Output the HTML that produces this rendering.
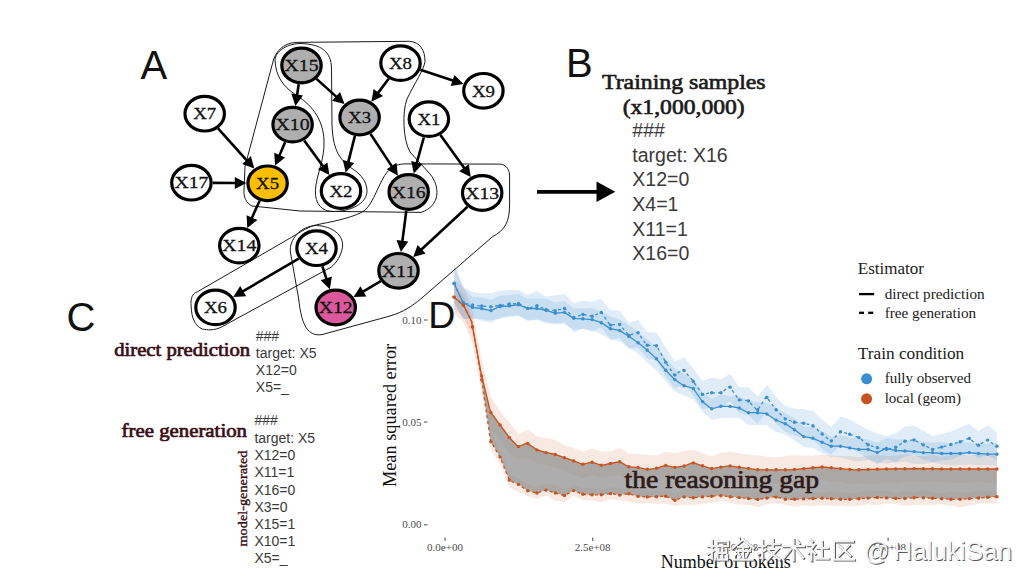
<!DOCTYPE html>
<html><head><meta charset="utf-8">
<style>
html,body{margin:0;padding:0;background:#fff;}
svg{display:block;}
.sans{font-family:"Liberation Sans",sans-serif;}
.serif{font-family:"Liberation Serif",serif;}
.nl{font-family:"Liberation Serif",serif;font-size:17.4px;fill:#111;stroke:#111;stroke-width:0.3px;}
.lbl{font-family:"Liberation Sans",sans-serif;fill:#111;}
.code{font-family:"Liberation Sans",sans-serif;fill:#3a3a3a;}
.mar{font-family:"Liberation Serif",serif;fill:#3b0d16;stroke:#3b0d16;stroke-width:0.7px;}
.tick{font-family:"Liberation Serif",serif;font-size:11px;fill:#4d4d4d;}
.leg{font-family:"Liberation Serif",serif;fill:#1a1a1a;}
</style></head>
<body>
<svg width="1033" height="584" viewBox="0 0 1033 584">
<rect x="0" y="0" width="1033" height="584" fill="#fff"/>
<!-- chart D -->
<g id="chart">
<polygon points="454.1,279.5 463.3,286.7 472.5,309.5 481.7,360.1 490.9,396.7 500.1,411.1 509.3,422.6 518.5,434.1 527.7,429.6 536.9,436.2 546.1,437.9 555.3,440.1 564.5,445.1 573.7,447.9 582.9,451.5 592.1,448.4 601.3,451.6 610.5,451.2 619.7,447.8 628.9,453.8 638.1,454.0 647.3,455.1 656.5,455.4 665.7,451.8 674.9,453.3 684.1,451.2 693.3,449.6 702.5,453.2 711.7,456.2 720.9,452.9 730.1,451.5 739.3,453.2 748.5,454.7 757.7,455.3 766.9,456.4 776.1,457.4 785.3,455.9 794.5,455.1 803.7,455.4 812.9,455.6 822.1,454.4 831.3,455.4 840.5,456.1 849.7,456.2 858.9,457.3 868.1,455.8 877.3,454.9 886.5,456.1 895.7,455.7 904.9,454.1 914.1,456.0 923.3,455.9 932.5,455.1 941.7,456.7 950.9,455.8 960.1,454.3 969.3,455.5 978.5,455.0 987.7,454.5 996.9,454.5 996.9,483.3 987.7,483.2 978.5,481.3 969.3,482.8 960.1,483.0 950.9,482.7 941.7,482.2 932.5,481.7 923.3,482.1 914.1,481.4 904.9,481.4 895.7,483.4 886.5,482.3 877.3,483.7 868.1,483.9 858.9,483.0 849.7,483.9 840.5,481.5 831.3,482.0 822.1,479.5 812.9,481.2 803.7,482.6 794.5,482.4 785.3,484.6 776.1,483.8 766.9,483.7 757.7,484.3 748.5,481.8 739.3,480.9 730.1,479.0 720.9,480.8 711.7,482.4 702.5,479.3 693.3,477.0 684.1,478.5 674.9,480.3 665.7,479.9 656.5,482.0 647.3,483.4 638.1,480.4 628.9,480.5 619.7,475.1 610.5,476.3 601.3,477.6 592.1,475.5 582.9,477.9 573.7,475.2 564.5,470.2 555.3,467.5 546.1,464.9 536.9,463.2 527.7,458.1 518.5,459.4 509.3,453.2 500.1,438.9 490.9,429.3 481.7,392.9 472.5,343.3 463.3,322.0 454.1,314.2" fill="#c9521e" fill-opacity="0.13"/>
<polygon points="454.1,285.3 463.3,294.2 472.5,319.0 481.7,371.5 490.9,433.1 500.1,450.4 509.3,473.0 518.5,479.1 527.7,483.9 536.9,487.1 546.1,483.9 555.3,485.6 564.5,489.1 573.7,485.1 582.9,488.2 592.1,487.4 601.3,489.5 610.5,487.0 619.7,488.5 628.9,487.1 638.1,489.0 647.3,491.0 656.5,491.2 665.7,489.7 674.9,494.1 684.1,489.6 693.3,490.2 702.5,489.6 711.7,490.4 720.9,489.7 730.1,491.4 739.3,491.7 748.5,490.8 757.7,491.8 766.9,490.4 776.1,491.3 785.3,493.5 794.5,492.4 803.7,491.5 812.9,491.7 822.1,492.9 831.3,491.2 840.5,492.1 849.7,493.6 858.9,492.6 868.1,490.4 877.3,491.3 886.5,490.9 895.7,492.9 904.9,490.9 914.1,492.2 923.3,490.0 932.5,492.1 941.7,493.2 950.9,491.5 960.1,492.7 969.3,492.3 978.5,490.6 987.7,491.5 996.9,490.9 996.9,503.4 987.7,503.3 978.5,503.7 969.3,506.1 960.1,506.9 950.9,506.1 941.7,504.0 932.5,504.9 923.3,504.7 914.1,505.1 904.9,505.7 895.7,504.0 886.5,503.6 877.3,505.2 868.1,504.3 858.9,506.0 849.7,506.5 840.5,505.7 831.3,506.0 822.1,505.2 812.9,505.9 803.7,505.4 794.5,506.8 785.3,504.9 776.1,502.8 766.9,504.2 757.7,507.2 748.5,504.9 739.3,504.6 730.1,502.6 720.9,501.1 711.7,502.7 702.5,504.0 693.3,505.0 684.1,504.7 674.9,505.9 665.7,503.5 656.5,504.0 647.3,503.1 638.1,503.4 628.9,501.4 619.7,500.4 610.5,499.2 601.3,502.5 592.1,500.4 582.9,500.2 573.7,496.0 564.5,502.0 555.3,500.8 546.1,495.6 536.9,499.1 527.7,496.2 518.5,491.9 509.3,487.6 500.1,464.2 490.9,449.5 481.7,387.9 472.5,334.8 463.3,317.5 454.1,308.8" fill="#c9521e" fill-opacity="0.13"/>
<polygon points="453.8,296.8 463.6,305.4 471.5,321.2 481.3,374.3 490.6,412.1 500.1,425.0 509.6,437.8 518.1,446.8 527.1,443.0 536.8,449.9 546.4,452.7 555.3,454.5 564.3,457.6 573.8,460.9 582.3,464.3 591.8,462.2 601.6,465.3 610.6,463.5 619.6,461.7 628.6,466.8 638.1,467.4 646.6,469.4 655.5,468.6 665.3,465.3 674.8,467.4 683.8,466.1 692.8,462.7 711.1,468.6 729.0,465.8 758.7,469.8 790.5,469.8 822.2,467.0 854.0,469.8 885.7,469.0 917.5,468.6 949.2,469.0 996.8,469.0 996.8,496.7 957.1,499.5 917.5,497.5 901.6,498.7 877.8,497.5 846.0,499.5 822.2,498.3 786.5,499.5 774.6,496.7 758.7,499.5 719.0,495.6 692.8,497.7 683.8,496.9 674.8,500.2 665.3,496.1 655.5,496.9 646.6,496.9 638.1,496.4 628.6,493.6 619.6,495.1 610.6,493.6 601.6,494.8 591.8,494.8 582.3,494.3 573.8,490.5 564.3,495.6 555.3,493.0 546.4,490.0 536.8,493.0 527.1,490.5 518.1,484.1 509.6,480.7 500.1,457.1 490.6,441.2 481.3,377.0 471.5,321.2 463.6,305.4 453.8,296.8" fill="#8a8a8a" fill-opacity="0.7"/>
<polygon points="454.1,264.1 463.3,288.3 472.5,296.7 481.7,297.4 490.9,299.8 500.1,295.5 509.3,294.9 518.5,293.9 527.7,298.7 536.9,298.4 546.1,298.7 555.3,302.6 564.5,301.3 573.7,308.3 582.9,308.5 592.1,307.9 601.3,311.5 610.5,316.6 619.7,319.4 628.9,325.3 638.1,331.9 647.3,339.2 656.5,347.3 665.7,358.2 674.9,368.5 684.1,373.9 693.3,378.5 702.5,391.7 711.7,398.8 720.9,394.6 730.1,396.3 739.3,396.6 748.5,400.7 757.7,402.5 766.9,403.3 776.1,407.8 785.3,413.6 794.5,418.6 803.7,426.4 812.9,426.8 822.1,431.1 831.3,436.5 840.5,434.9 849.7,438.0 858.9,437.7 868.1,439.5 877.3,442.7 886.5,438.1 895.7,439.6 904.9,439.2 914.1,441.5 923.3,441.4 932.5,442.7 941.7,442.0 950.9,443.6 960.1,442.1 969.3,442.7 978.5,443.7 987.7,443.3 996.9,443.1 996.9,466.3 987.7,464.8 978.5,465.5 969.3,464.5 960.1,465.2 950.9,465.6 941.7,464.3 932.5,462.5 923.3,464.1 914.1,463.7 904.9,461.4 895.7,462.5 886.5,458.5 877.3,464.2 868.1,459.9 858.9,461.6 849.7,460.1 840.5,457.2 831.3,456.8 822.1,453.1 812.9,448.1 803.7,447.1 794.5,440.3 785.3,434.6 776.1,432.0 766.9,425.0 757.7,424.9 748.5,424.9 739.3,418.1 730.1,418.0 720.9,418.3 711.7,420.1 702.5,411.9 693.3,399.3 684.1,395.8 674.9,391.8 665.7,380.7 656.5,370.8 647.3,362.3 638.1,353.8 628.9,347.9 619.7,341.7 610.5,339.5 601.3,334.3 592.1,330.6 582.9,329.2 573.7,329.5 564.5,324.1 555.3,324.2 546.1,321.4 536.9,319.4 527.7,320.2 518.5,314.9 509.3,315.7 500.1,317.6 490.9,322.7 481.7,320.7 472.5,318.2 463.3,319.1 454.1,303.1" fill="#3a8fd1" fill-opacity="0.155"/>
<polygon points="454.1,264.0 463.3,286.7 472.5,292.1 481.7,293.2 490.9,293.2 500.1,290.8 509.3,290.0 518.5,289.9 527.7,295.0 536.9,291.0 546.1,296.6 555.3,295.4 564.5,293.7 573.7,303.5 582.9,300.7 592.1,301.7 601.3,298.8 610.5,310.6 619.7,310.7 628.9,322.6 638.1,319.9 647.3,331.9 656.5,332.7 665.7,347.2 674.9,361.5 684.1,357.1 693.3,368.3 702.5,381.0 711.7,377.6 720.9,379.5 730.1,373.8 739.3,387.2 748.5,387.1 757.7,396.6 766.9,384.8 776.1,396.9 785.3,406.1 794.5,408.7 803.7,409.0 812.9,411.0 822.1,419.4 831.3,427.2 840.5,416.6 849.7,419.6 858.9,424.8 868.1,429.7 877.3,433.2 886.5,436.3 895.7,433.3 904.9,426.6 914.1,425.7 923.3,430.4 932.5,436.1 941.7,434.0 950.9,431.5 960.1,427.6 969.3,424.0 978.5,431.3 987.7,425.3 996.9,432.2 996.9,460.3 987.7,454.7 978.5,458.0 969.3,452.8 960.1,456.1 950.9,459.4 941.7,460.7 932.5,462.2 923.3,459.4 914.1,454.9 904.9,456.2 895.7,462.2 886.5,463.4 877.3,462.6 868.1,459.0 858.9,452.5 849.7,448.5 840.5,444.9 831.3,454.4 822.1,448.9 812.9,440.1 803.7,437.3 794.5,435.5 785.3,431.7 776.1,423.5 766.9,410.9 757.7,423.8 748.5,415.0 739.3,413.6 730.1,401.0 720.9,408.0 711.7,406.9 702.5,409.6 693.3,395.3 684.1,384.4 674.9,388.2 665.7,376.6 656.5,360.5 647.3,358.4 638.1,347.5 628.9,348.5 619.7,338.1 610.5,339.5 601.3,327.3 592.1,331.5 582.9,328.5 573.7,332.3 564.5,322.3 555.3,323.5 546.1,323.7 536.9,319.7 527.7,321.1 518.5,316.2 509.3,317.1 500.1,318.9 490.9,320.2 481.7,319.3 472.5,318.2 463.3,318.7 454.1,302.4" fill="#3a8fd1" fill-opacity="0.155"/>
<polyline points="454.1,283.4 463.0,302.5 472.1,307.3 481.1,308.5 490.9,310.6 499.9,306.5 508.9,306.0 518.4,304.7 527.9,308.5 537.1,308.5 546.1,310.3 555.1,313.2 564.6,312.4 573.6,318.3 582.6,318.8 592.1,319.6 601.4,322.7 610.1,328.6 619.3,330.4 628.8,336.3 637.8,342.5 646.8,349.7 656.3,358.6 665.6,370.2 674.3,379.2 683.6,385.6 693.1,388.2 702.4,401.5 711.3,408.8 720.9,406.3 729.5,406.3 739.1,407.9 748.0,412.7 757.3,412.7 766.3,413.6 775.8,420.0 785.4,423.8 794.4,429.6 803.6,436.6 812.6,438.2 821.5,442.0 830.8,446.2 840.4,446.2 849.3,447.8 858.9,449.4 867.9,449.4 877.1,452.6 886.1,448.4 895.0,450.4 904.6,451.0 913.9,451.6 922.8,452.6 932.4,452.6 941.3,453.5 950.6,453.5 959.6,453.5 969.1,452.6 978.0,453.5 987.3,454.2 996.3,454.2" fill="none" stroke="#3a8fd1" stroke-width="1.3"/>
<polyline points="454.1,283.4 463.0,303.0 472.1,305.0 481.0,306.0 491.0,306.7 499.9,305.5 508.9,304.0 518.4,303.4 527.9,308.5 537.1,305.5 546.1,309.8 555.1,310.6 564.6,308.5 573.6,317.5 582.6,314.4 592.1,316.2 601.4,312.4 610.1,325.2 619.3,324.0 628.8,335.5 637.8,332.4 646.8,345.3 656.3,345.3 665.6,362.0 674.3,375.3 683.2,369.5 692.8,380.7 702.4,394.4 711.3,392.8 720.9,392.8 729.5,386.5 739.1,399.9 748.0,400.5 757.3,410.4 766.3,396.7 775.8,409.5 785.4,419.0 794.4,422.2 803.6,423.2 812.6,425.4 821.5,433.4 830.8,441.4 840.4,431.8 849.3,434.0 858.9,437.6 867.9,444.6 877.1,447.8 886.1,449.4 895.0,447.8 904.6,441.4 913.9,439.8 922.8,444.6 932.4,449.4 941.3,447.2 950.6,444.6 959.6,442.0 969.1,438.2 978.0,445.6 987.3,439.8 996.3,446.2" fill="none" stroke="#3a8fd1" stroke-width="1.3" stroke-dasharray="3,3"/>
<polyline points="453.8,296.8 463.6,305.4 471.5,321.2 481.3,374.3 490.6,412.1 500.1,425.0 509.6,437.8 518.1,446.8 527.1,443.0 536.8,449.9 546.4,452.7 555.3,454.5 564.3,457.6 573.8,460.9 582.3,464.3 591.8,462.2 601.6,465.3 610.6,463.5 619.6,461.7 628.6,466.8 638.1,467.4 646.6,469.4 655.5,468.6 665.3,465.3 674.8,467.4 683.8,466.1 692.8,462.7 711.1,468.6 729.0,465.8 758.7,469.8 790.5,469.8 822.2,467.0 854.0,469.8 885.7,469.0 917.5,468.6 949.2,469.0 996.8,469.0" fill="none" stroke="#c9521e" stroke-width="1.3"/>
<polyline points="453.8,296.8 463.6,305.4 471.5,321.2 481.3,377.0 490.6,441.2 500.1,457.1 509.6,480.7 518.1,484.1 527.1,490.5 536.8,493.0 546.4,490.0 555.3,493.0 564.3,495.6 573.8,490.5 582.3,494.3 591.8,494.8 601.6,494.8 610.6,493.6 619.6,495.1 628.6,493.6 638.1,496.4 646.6,496.9 655.5,496.9 665.3,496.1 674.8,500.2 683.8,496.9 692.8,497.7 719.0,495.6 758.7,499.5 774.6,496.7 786.5,499.5 822.2,498.3 846.0,499.5 877.8,497.5 901.6,498.7 917.5,497.5 957.1,499.5 996.8,496.7" fill="none" stroke="#c9521e" stroke-width="1.3" stroke-dasharray="3,3"/>
<circle cx="454.1" cy="283.4" r="1.7" fill="#3a8fd1"/>
<circle cx="463.3" cy="302.7" r="1.7" fill="#3a8fd1"/>
<circle cx="472.5" cy="307.4" r="1.7" fill="#3a8fd1"/>
<circle cx="481.7" cy="308.6" r="1.7" fill="#3a8fd1"/>
<circle cx="490.9" cy="310.6" r="1.7" fill="#3a8fd1"/>
<circle cx="500.1" cy="306.5" r="1.7" fill="#3a8fd1"/>
<circle cx="509.3" cy="305.9" r="1.7" fill="#3a8fd1"/>
<circle cx="518.5" cy="304.7" r="1.7" fill="#3a8fd1"/>
<circle cx="527.7" cy="308.4" r="1.7" fill="#3a8fd1"/>
<circle cx="536.9" cy="308.5" r="1.7" fill="#3a8fd1"/>
<circle cx="546.1" cy="310.3" r="1.7" fill="#3a8fd1"/>
<circle cx="555.3" cy="313.2" r="1.7" fill="#3a8fd1"/>
<circle cx="564.5" cy="312.4" r="1.7" fill="#3a8fd1"/>
<circle cx="573.7" cy="318.3" r="1.7" fill="#3a8fd1"/>
<circle cx="582.9" cy="318.8" r="1.7" fill="#3a8fd1"/>
<circle cx="592.1" cy="319.6" r="1.7" fill="#3a8fd1"/>
<circle cx="601.3" cy="322.7" r="1.7" fill="#3a8fd1"/>
<circle cx="610.5" cy="328.7" r="1.7" fill="#3a8fd1"/>
<circle cx="619.7" cy="330.6" r="1.7" fill="#3a8fd1"/>
<circle cx="628.9" cy="336.4" r="1.7" fill="#3a8fd1"/>
<circle cx="638.1" cy="342.7" r="1.7" fill="#3a8fd1"/>
<circle cx="647.3" cy="350.2" r="1.7" fill="#3a8fd1"/>
<circle cx="656.5" cy="358.8" r="1.7" fill="#3a8fd1"/>
<circle cx="665.7" cy="370.3" r="1.7" fill="#3a8fd1"/>
<circle cx="674.9" cy="379.6" r="1.7" fill="#3a8fd1"/>
<circle cx="684.1" cy="385.7" r="1.7" fill="#3a8fd1"/>
<circle cx="693.3" cy="388.5" r="1.7" fill="#3a8fd1"/>
<circle cx="702.5" cy="401.6" r="1.7" fill="#3a8fd1"/>
<circle cx="711.7" cy="408.7" r="1.7" fill="#3a8fd1"/>
<circle cx="720.9" cy="406.3" r="1.7" fill="#3a8fd1"/>
<circle cx="730.1" cy="406.4" r="1.7" fill="#3a8fd1"/>
<circle cx="739.3" cy="408.0" r="1.7" fill="#3a8fd1"/>
<circle cx="748.5" cy="412.7" r="1.7" fill="#3a8fd1"/>
<circle cx="757.7" cy="412.7" r="1.7" fill="#3a8fd1"/>
<circle cx="766.9" cy="414.0" r="1.7" fill="#3a8fd1"/>
<circle cx="776.1" cy="420.1" r="1.7" fill="#3a8fd1"/>
<circle cx="785.3" cy="423.8" r="1.7" fill="#3a8fd1"/>
<circle cx="794.5" cy="429.7" r="1.7" fill="#3a8fd1"/>
<circle cx="803.7" cy="436.6" r="1.7" fill="#3a8fd1"/>
<circle cx="812.9" cy="438.3" r="1.7" fill="#3a8fd1"/>
<circle cx="822.1" cy="442.3" r="1.7" fill="#3a8fd1"/>
<circle cx="831.3" cy="446.2" r="1.7" fill="#3a8fd1"/>
<circle cx="840.5" cy="446.2" r="1.7" fill="#3a8fd1"/>
<circle cx="849.7" cy="447.9" r="1.7" fill="#3a8fd1"/>
<circle cx="858.9" cy="449.4" r="1.7" fill="#3a8fd1"/>
<circle cx="868.1" cy="449.5" r="1.7" fill="#3a8fd1"/>
<circle cx="877.3" cy="452.5" r="1.7" fill="#3a8fd1"/>
<circle cx="886.5" cy="448.5" r="1.7" fill="#3a8fd1"/>
<circle cx="895.7" cy="450.4" r="1.7" fill="#3a8fd1"/>
<circle cx="904.9" cy="451.0" r="1.7" fill="#3a8fd1"/>
<circle cx="914.1" cy="451.6" r="1.7" fill="#3a8fd1"/>
<circle cx="923.3" cy="452.6" r="1.7" fill="#3a8fd1"/>
<circle cx="932.5" cy="452.6" r="1.7" fill="#3a8fd1"/>
<circle cx="941.7" cy="453.5" r="1.7" fill="#3a8fd1"/>
<circle cx="950.9" cy="453.5" r="1.7" fill="#3a8fd1"/>
<circle cx="960.1" cy="453.5" r="1.7" fill="#3a8fd1"/>
<circle cx="969.3" cy="452.6" r="1.7" fill="#3a8fd1"/>
<circle cx="978.5" cy="453.5" r="1.7" fill="#3a8fd1"/>
<circle cx="987.7" cy="454.2" r="1.7" fill="#3a8fd1"/>
<circle cx="996.9" cy="454.2" r="1.7" fill="#3a8fd1"/>
<circle cx="454.1" cy="283.4" r="1.7" fill="#3a8fd1"/>
<circle cx="463.3" cy="303.1" r="1.7" fill="#3a8fd1"/>
<circle cx="472.5" cy="305.0" r="1.7" fill="#3a8fd1"/>
<circle cx="481.7" cy="306.0" r="1.7" fill="#3a8fd1"/>
<circle cx="490.9" cy="306.7" r="1.7" fill="#3a8fd1"/>
<circle cx="500.1" cy="305.5" r="1.7" fill="#3a8fd1"/>
<circle cx="509.3" cy="304.0" r="1.7" fill="#3a8fd1"/>
<circle cx="518.5" cy="303.5" r="1.7" fill="#3a8fd1"/>
<circle cx="527.7" cy="308.4" r="1.7" fill="#3a8fd1"/>
<circle cx="536.9" cy="305.6" r="1.7" fill="#3a8fd1"/>
<circle cx="546.1" cy="309.8" r="1.7" fill="#3a8fd1"/>
<circle cx="555.3" cy="310.6" r="1.7" fill="#3a8fd1"/>
<circle cx="564.5" cy="308.5" r="1.7" fill="#3a8fd1"/>
<circle cx="573.7" cy="317.5" r="1.7" fill="#3a8fd1"/>
<circle cx="582.9" cy="314.5" r="1.7" fill="#3a8fd1"/>
<circle cx="592.1" cy="316.2" r="1.7" fill="#3a8fd1"/>
<circle cx="601.3" cy="312.4" r="1.7" fill="#3a8fd1"/>
<circle cx="610.5" cy="325.1" r="1.7" fill="#3a8fd1"/>
<circle cx="619.7" cy="324.5" r="1.7" fill="#3a8fd1"/>
<circle cx="628.9" cy="335.5" r="1.7" fill="#3a8fd1"/>
<circle cx="638.1" cy="332.8" r="1.7" fill="#3a8fd1"/>
<circle cx="647.3" cy="345.3" r="1.7" fill="#3a8fd1"/>
<circle cx="656.5" cy="345.7" r="1.7" fill="#3a8fd1"/>
<circle cx="665.7" cy="362.2" r="1.7" fill="#3a8fd1"/>
<circle cx="674.9" cy="374.9" r="1.7" fill="#3a8fd1"/>
<circle cx="684.1" cy="370.5" r="1.7" fill="#3a8fd1"/>
<circle cx="693.3" cy="381.4" r="1.7" fill="#3a8fd1"/>
<circle cx="702.5" cy="394.4" r="1.7" fill="#3a8fd1"/>
<circle cx="711.7" cy="392.8" r="1.7" fill="#3a8fd1"/>
<circle cx="720.9" cy="392.8" r="1.7" fill="#3a8fd1"/>
<circle cx="730.1" cy="387.3" r="1.7" fill="#3a8fd1"/>
<circle cx="739.3" cy="399.9" r="1.7" fill="#3a8fd1"/>
<circle cx="748.5" cy="401.0" r="1.7" fill="#3a8fd1"/>
<circle cx="757.7" cy="409.8" r="1.7" fill="#3a8fd1"/>
<circle cx="766.9" cy="397.5" r="1.7" fill="#3a8fd1"/>
<circle cx="776.1" cy="409.8" r="1.7" fill="#3a8fd1"/>
<circle cx="785.3" cy="418.9" r="1.7" fill="#3a8fd1"/>
<circle cx="794.5" cy="422.2" r="1.7" fill="#3a8fd1"/>
<circle cx="803.7" cy="423.2" r="1.7" fill="#3a8fd1"/>
<circle cx="812.9" cy="425.7" r="1.7" fill="#3a8fd1"/>
<circle cx="822.1" cy="433.9" r="1.7" fill="#3a8fd1"/>
<circle cx="831.3" cy="440.9" r="1.7" fill="#3a8fd1"/>
<circle cx="840.5" cy="431.8" r="1.7" fill="#3a8fd1"/>
<circle cx="849.7" cy="434.2" r="1.7" fill="#3a8fd1"/>
<circle cx="858.9" cy="437.6" r="1.7" fill="#3a8fd1"/>
<circle cx="868.1" cy="444.7" r="1.7" fill="#3a8fd1"/>
<circle cx="877.3" cy="447.8" r="1.7" fill="#3a8fd1"/>
<circle cx="886.5" cy="449.3" r="1.7" fill="#3a8fd1"/>
<circle cx="895.7" cy="447.3" r="1.7" fill="#3a8fd1"/>
<circle cx="904.9" cy="441.3" r="1.7" fill="#3a8fd1"/>
<circle cx="914.1" cy="439.9" r="1.7" fill="#3a8fd1"/>
<circle cx="923.3" cy="444.9" r="1.7" fill="#3a8fd1"/>
<circle cx="932.5" cy="449.4" r="1.7" fill="#3a8fd1"/>
<circle cx="941.7" cy="447.1" r="1.7" fill="#3a8fd1"/>
<circle cx="950.9" cy="444.5" r="1.7" fill="#3a8fd1"/>
<circle cx="960.1" cy="441.8" r="1.7" fill="#3a8fd1"/>
<circle cx="969.3" cy="438.4" r="1.7" fill="#3a8fd1"/>
<circle cx="978.5" cy="445.3" r="1.7" fill="#3a8fd1"/>
<circle cx="987.7" cy="440.1" r="1.7" fill="#3a8fd1"/>
<circle cx="996.9" cy="446.2" r="1.7" fill="#3a8fd1"/>
<circle cx="454.1" cy="297.1" r="1.7" fill="#c9521e"/>
<circle cx="463.3" cy="305.1" r="1.7" fill="#c9521e"/>
<circle cx="472.5" cy="326.6" r="1.7" fill="#c9521e"/>
<circle cx="481.7" cy="375.9" r="1.7" fill="#c9521e"/>
<circle cx="490.9" cy="412.5" r="1.7" fill="#c9521e"/>
<circle cx="500.1" cy="425.0" r="1.7" fill="#c9521e"/>
<circle cx="509.3" cy="437.4" r="1.7" fill="#c9521e"/>
<circle cx="518.5" cy="446.6" r="1.7" fill="#c9521e"/>
<circle cx="527.7" cy="443.4" r="1.7" fill="#c9521e"/>
<circle cx="536.9" cy="449.9" r="1.7" fill="#c9521e"/>
<circle cx="546.1" cy="452.6" r="1.7" fill="#c9521e"/>
<circle cx="555.3" cy="454.5" r="1.7" fill="#c9521e"/>
<circle cx="564.5" cy="457.7" r="1.7" fill="#c9521e"/>
<circle cx="573.7" cy="460.9" r="1.7" fill="#c9521e"/>
<circle cx="582.9" cy="464.2" r="1.7" fill="#c9521e"/>
<circle cx="592.1" cy="462.3" r="1.7" fill="#c9521e"/>
<circle cx="601.3" cy="465.2" r="1.7" fill="#c9521e"/>
<circle cx="610.5" cy="463.5" r="1.7" fill="#c9521e"/>
<circle cx="619.7" cy="461.8" r="1.7" fill="#c9521e"/>
<circle cx="628.9" cy="466.8" r="1.7" fill="#c9521e"/>
<circle cx="638.1" cy="467.4" r="1.7" fill="#c9521e"/>
<circle cx="647.3" cy="469.3" r="1.7" fill="#c9521e"/>
<circle cx="656.5" cy="468.3" r="1.7" fill="#c9521e"/>
<circle cx="665.7" cy="465.4" r="1.7" fill="#c9521e"/>
<circle cx="674.9" cy="467.4" r="1.7" fill="#c9521e"/>
<circle cx="684.1" cy="466.0" r="1.7" fill="#c9521e"/>
<circle cx="693.3" cy="462.9" r="1.7" fill="#c9521e"/>
<circle cx="702.5" cy="465.8" r="1.7" fill="#c9521e"/>
<circle cx="711.7" cy="468.5" r="1.7" fill="#c9521e"/>
<circle cx="720.9" cy="467.1" r="1.7" fill="#c9521e"/>
<circle cx="730.1" cy="465.9" r="1.7" fill="#c9521e"/>
<circle cx="739.3" cy="467.2" r="1.7" fill="#c9521e"/>
<circle cx="748.5" cy="468.4" r="1.7" fill="#c9521e"/>
<circle cx="757.7" cy="469.7" r="1.7" fill="#c9521e"/>
<circle cx="766.9" cy="469.8" r="1.7" fill="#c9521e"/>
<circle cx="776.1" cy="469.8" r="1.7" fill="#c9521e"/>
<circle cx="785.3" cy="469.8" r="1.7" fill="#c9521e"/>
<circle cx="794.5" cy="469.4" r="1.7" fill="#c9521e"/>
<circle cx="803.7" cy="468.6" r="1.7" fill="#c9521e"/>
<circle cx="812.9" cy="467.8" r="1.7" fill="#c9521e"/>
<circle cx="822.1" cy="467.0" r="1.7" fill="#c9521e"/>
<circle cx="831.3" cy="467.8" r="1.7" fill="#c9521e"/>
<circle cx="840.5" cy="468.6" r="1.7" fill="#c9521e"/>
<circle cx="849.7" cy="469.4" r="1.7" fill="#c9521e"/>
<circle cx="858.9" cy="469.7" r="1.7" fill="#c9521e"/>
<circle cx="868.1" cy="469.4" r="1.7" fill="#c9521e"/>
<circle cx="877.3" cy="469.2" r="1.7" fill="#c9521e"/>
<circle cx="886.5" cy="469.0" r="1.7" fill="#c9521e"/>
<circle cx="895.7" cy="468.9" r="1.7" fill="#c9521e"/>
<circle cx="904.9" cy="468.8" r="1.7" fill="#c9521e"/>
<circle cx="914.1" cy="468.6" r="1.7" fill="#c9521e"/>
<circle cx="923.3" cy="468.7" r="1.7" fill="#c9521e"/>
<circle cx="932.5" cy="468.8" r="1.7" fill="#c9521e"/>
<circle cx="941.7" cy="468.9" r="1.7" fill="#c9521e"/>
<circle cx="950.9" cy="469.0" r="1.7" fill="#c9521e"/>
<circle cx="960.1" cy="469.0" r="1.7" fill="#c9521e"/>
<circle cx="969.3" cy="469.0" r="1.7" fill="#c9521e"/>
<circle cx="978.5" cy="469.0" r="1.7" fill="#c9521e"/>
<circle cx="987.7" cy="469.0" r="1.7" fill="#c9521e"/>
<circle cx="996.9" cy="469.0" r="1.7" fill="#c9521e"/>
<circle cx="454.1" cy="297.1" r="1.7" fill="#c9521e"/>
<circle cx="463.3" cy="305.1" r="1.7" fill="#c9521e"/>
<circle cx="472.5" cy="326.9" r="1.7" fill="#c9521e"/>
<circle cx="481.7" cy="379.8" r="1.7" fill="#c9521e"/>
<circle cx="490.9" cy="441.7" r="1.7" fill="#c9521e"/>
<circle cx="500.1" cy="457.1" r="1.7" fill="#c9521e"/>
<circle cx="509.3" cy="480.0" r="1.7" fill="#c9521e"/>
<circle cx="518.5" cy="484.4" r="1.7" fill="#c9521e"/>
<circle cx="527.7" cy="490.7" r="1.7" fill="#c9521e"/>
<circle cx="536.9" cy="493.0" r="1.7" fill="#c9521e"/>
<circle cx="546.1" cy="490.1" r="1.7" fill="#c9521e"/>
<circle cx="555.3" cy="493.0" r="1.7" fill="#c9521e"/>
<circle cx="564.5" cy="495.5" r="1.7" fill="#c9521e"/>
<circle cx="573.7" cy="490.6" r="1.7" fill="#c9521e"/>
<circle cx="582.9" cy="494.3" r="1.7" fill="#c9521e"/>
<circle cx="592.1" cy="494.8" r="1.7" fill="#c9521e"/>
<circle cx="601.3" cy="494.8" r="1.7" fill="#c9521e"/>
<circle cx="610.5" cy="493.6" r="1.7" fill="#c9521e"/>
<circle cx="619.7" cy="495.1" r="1.7" fill="#c9521e"/>
<circle cx="628.9" cy="493.7" r="1.7" fill="#c9521e"/>
<circle cx="638.1" cy="496.4" r="1.7" fill="#c9521e"/>
<circle cx="647.3" cy="496.9" r="1.7" fill="#c9521e"/>
<circle cx="656.5" cy="496.8" r="1.7" fill="#c9521e"/>
<circle cx="665.7" cy="496.3" r="1.7" fill="#c9521e"/>
<circle cx="674.9" cy="500.2" r="1.7" fill="#c9521e"/>
<circle cx="684.1" cy="496.9" r="1.7" fill="#c9521e"/>
<circle cx="693.3" cy="497.7" r="1.7" fill="#c9521e"/>
<circle cx="702.5" cy="496.9" r="1.7" fill="#c9521e"/>
<circle cx="711.7" cy="496.2" r="1.7" fill="#c9521e"/>
<circle cx="720.9" cy="495.8" r="1.7" fill="#c9521e"/>
<circle cx="730.1" cy="496.7" r="1.7" fill="#c9521e"/>
<circle cx="739.3" cy="497.6" r="1.7" fill="#c9521e"/>
<circle cx="748.5" cy="498.5" r="1.7" fill="#c9521e"/>
<circle cx="757.7" cy="499.4" r="1.7" fill="#c9521e"/>
<circle cx="766.9" cy="498.1" r="1.7" fill="#c9521e"/>
<circle cx="776.1" cy="497.1" r="1.7" fill="#c9521e"/>
<circle cx="785.3" cy="499.2" r="1.7" fill="#c9521e"/>
<circle cx="794.5" cy="499.2" r="1.7" fill="#c9521e"/>
<circle cx="803.7" cy="498.9" r="1.7" fill="#c9521e"/>
<circle cx="812.9" cy="498.6" r="1.7" fill="#c9521e"/>
<circle cx="822.1" cy="498.3" r="1.7" fill="#c9521e"/>
<circle cx="831.3" cy="498.8" r="1.7" fill="#c9521e"/>
<circle cx="840.5" cy="499.2" r="1.7" fill="#c9521e"/>
<circle cx="849.7" cy="499.3" r="1.7" fill="#c9521e"/>
<circle cx="858.9" cy="498.7" r="1.7" fill="#c9521e"/>
<circle cx="868.1" cy="498.1" r="1.7" fill="#c9521e"/>
<circle cx="877.3" cy="497.5" r="1.7" fill="#c9521e"/>
<circle cx="886.5" cy="497.9" r="1.7" fill="#c9521e"/>
<circle cx="895.7" cy="498.4" r="1.7" fill="#c9521e"/>
<circle cx="904.9" cy="498.5" r="1.7" fill="#c9521e"/>
<circle cx="914.1" cy="497.8" r="1.7" fill="#c9521e"/>
<circle cx="923.3" cy="497.8" r="1.7" fill="#c9521e"/>
<circle cx="932.5" cy="498.3" r="1.7" fill="#c9521e"/>
<circle cx="941.7" cy="498.7" r="1.7" fill="#c9521e"/>
<circle cx="950.9" cy="499.2" r="1.7" fill="#c9521e"/>
<circle cx="960.1" cy="499.3" r="1.7" fill="#c9521e"/>
<circle cx="969.3" cy="498.6" r="1.7" fill="#c9521e"/>
<circle cx="978.5" cy="498.0" r="1.7" fill="#c9521e"/>
<circle cx="987.7" cy="497.3" r="1.7" fill="#c9521e"/>
<circle cx="996.9" cy="496.7" r="1.7" fill="#c9521e"/>
<text x="624.6" y="487.6" class="serif" font-size="26" fill="#2e1a1a" stroke="#2e1a1a" stroke-width="0.7" textLength="194.4" lengthAdjust="spacingAndGlyphs">the reasoning gap</text>
</g>
<!-- graph A -->
<g id="graph">
<path d="M296,42.4 L409.4,41.3 C420,42 425,50 425,61.4 C424,70 414,84 407,99 C402,112 403,140 410,152 L430,174 C440,186 441,206 421,212.4 L300,211 L252,206 C246,203 243.5,197 244,190 L245,166.5 L272.6,63.1 C275,52 283,43 296,42.4 Z" fill="none" stroke="#1a1a1a" stroke-width="1"/>
<path d="M300,43.5 C285,44 273.5,53 275.2,62 C276,75 282,86 296,95 C315,107 323,122 324,140 C325,160 316,175 315.4,190.8 C315,204 322,211.5 333,211.5 C350,211.5 367,204 367,190.8 C367,180 358,172 350.8,167.7 C338,158 333,148 332,125 L331.5,68 C331,52 322,44 300,43.5 Z" fill="none" stroke="#1a1a1a" stroke-width="1"/>
<path d="M191.2,306.7 C190,298 193,293 197.4,291.8 L291.7,237.2 C300,232 310,226 316.5,224.8 C330,222 348,219 361.6,212.4 C372,207 376,190 384.7,175.4 C390,168 395,164 405,163.9 L499.2,164.1 C505,164 509,168 509.6,175 L509.6,205 C509.5,222 505,230 492.4,236.8 L420.7,299 C412,306 403.3,312.1 390,316 L322,334.6 C316,335.5 311.8,334 308,330 C303,325 300,312 298.7,299 L290.4,252 C289,240 300,226 316.5,225.5 C332,226 344,235 342.5,247.1 C341,256 337,262 331.4,267 L222.2,326.6 C214,331 207,330 202.3,329 C195,326 191.5,318 191.2,306.7 Z" fill="none" stroke="#1a1a1a" stroke-width="1"/>
<line x1="298.7" y1="84.2" x2="297.0" y2="95.5" stroke="#000" stroke-width="2.6"/>
<path d="M295.4,105.9 L291.3,93.6 L303.0,95.4 Z" fill="#000"/>
<line x1="316.5" y1="78.9" x2="336.8" y2="97.1" stroke="#000" stroke-width="2.6"/>
<path d="M344.6,104.1 L332.1,100.8 L340.0,92.0 Z" fill="#000"/>
<line x1="388.7" y1="78.8" x2="377.7" y2="93.4" stroke="#000" stroke-width="2.6"/>
<path d="M371.4,101.8 L373.6,89.0 L383.0,96.1 Z" fill="#000"/>
<line x1="420.4" y1="69.8" x2="453.5" y2="80.8" stroke="#000" stroke-width="2.6"/>
<path d="M463.5,84.1 L450.7,86.1 L454.4,74.9 Z" fill="#000"/>
<line x1="218.0" y1="128.4" x2="247.2" y2="160.8" stroke="#000" stroke-width="2.6"/>
<path d="M254.3,168.6 L242.2,164.0 L250.9,156.1 Z" fill="#000"/>
<line x1="285.1" y1="142.3" x2="279.2" y2="156.0" stroke="#000" stroke-width="2.6"/>
<path d="M275.1,165.6 L274.2,152.7 L285.1,157.4 Z" fill="#000"/>
<line x1="304.2" y1="140.5" x2="323.2" y2="166.6" stroke="#000" stroke-width="2.6"/>
<path d="M329.4,175.1 L317.9,169.3 L327.4,162.4 Z" fill="#000"/>
<line x1="354.9" y1="135.9" x2="348.2" y2="162.4" stroke="#000" stroke-width="2.6"/>
<path d="M345.7,172.6 L342.8,160.0 L354.2,162.9 Z" fill="#000"/>
<line x1="370.4" y1="133.8" x2="392.2" y2="166.9" stroke="#000" stroke-width="2.6"/>
<path d="M397.9,175.7 L386.7,169.3 L396.5,162.8 Z" fill="#000"/>
<line x1="423.8" y1="137.5" x2="416.6" y2="163.5" stroke="#000" stroke-width="2.6"/>
<path d="M413.8,173.6 L411.2,161.0 L422.5,164.1 Z" fill="#000"/>
<line x1="440.4" y1="135.0" x2="464.6" y2="168.6" stroke="#000" stroke-width="2.6"/>
<path d="M470.7,177.1 L459.2,171.2 L468.8,164.3 Z" fill="#000"/>
<line x1="212.7" y1="182.9" x2="235.8" y2="183.0" stroke="#000" stroke-width="2.6"/>
<path d="M246.3,183.1 L234.8,188.9 L234.8,177.1 Z" fill="#000"/>
<line x1="259.6" y1="200.8" x2="251.6" y2="218.5" stroke="#000" stroke-width="2.6"/>
<path d="M247.3,228.1 L246.6,215.2 L257.4,220.0 Z" fill="#000"/>
<line x1="406.3" y1="210.8" x2="402.3" y2="241.6" stroke="#000" stroke-width="2.6"/>
<path d="M400.9,252.0 L396.6,239.9 L408.3,241.4 Z" fill="#000"/>
<line x1="467.5" y1="206.7" x2="420.9" y2="250.0" stroke="#000" stroke-width="2.6"/>
<path d="M413.2,257.1 L417.6,245.0 L425.6,253.6 Z" fill="#000"/>
<line x1="298.7" y1="258.6" x2="242.3" y2="291.7" stroke="#000" stroke-width="2.6"/>
<path d="M233.3,297.0 L240.2,286.1 L246.2,296.3 Z" fill="#000"/>
<line x1="322.4" y1="266.4" x2="326.6" y2="279.3" stroke="#000" stroke-width="2.6"/>
<path d="M329.8,289.3 L320.7,280.2 L331.9,276.6 Z" fill="#000"/>
<line x1="380.7" y1="281.2" x2="362.6" y2="291.8" stroke="#000" stroke-width="2.6"/>
<path d="M353.5,297.1 L360.4,286.2 L366.4,296.4 Z" fill="#000"/>
<ellipse cx="301.5" cy="65.5" rx="19.7" ry="17.3" fill="#afafaf" stroke="#000" stroke-width="3.2"/>
<text x="284.5" y="71.2" class="nl" textLength="34.0" lengthAdjust="spacingAndGlyphs">X15</text>
<ellipse cx="400.5" cy="63.1" rx="19.7" ry="17.3" fill="#ffffff" stroke="#000" stroke-width="3.2"/>
<text x="389.0" y="68.8" class="nl" textLength="23.0" lengthAdjust="spacingAndGlyphs">X8</text>
<ellipse cx="483.4" cy="90.8" rx="19.7" ry="17.3" fill="#ffffff" stroke="#000" stroke-width="3.2"/>
<text x="471.9" y="96.5" class="nl" textLength="23.0" lengthAdjust="spacingAndGlyphs">X9</text>
<ellipse cx="204.7" cy="113.7" rx="19.7" ry="17.3" fill="#ffffff" stroke="#000" stroke-width="3.2"/>
<text x="193.2" y="119.4" class="nl" textLength="23.0" lengthAdjust="spacingAndGlyphs">X7</text>
<ellipse cx="292.6" cy="124.6" rx="19.7" ry="17.3" fill="#afafaf" stroke="#000" stroke-width="3.2"/>
<text x="275.6" y="130.3" class="nl" textLength="34.0" lengthAdjust="spacingAndGlyphs">X10</text>
<ellipse cx="359.6" cy="117.5" rx="19.7" ry="17.3" fill="#afafaf" stroke="#000" stroke-width="3.2"/>
<text x="348.1" y="123.2" class="nl" textLength="23.0" lengthAdjust="spacingAndGlyphs">X3</text>
<ellipse cx="428.9" cy="119.1" rx="19.7" ry="17.3" fill="#ffffff" stroke="#000" stroke-width="3.2"/>
<text x="417.4" y="124.8" class="nl" textLength="23.0" lengthAdjust="spacingAndGlyphs">X1</text>
<ellipse cx="191.4" cy="182.7" rx="19.7" ry="17.3" fill="#ffffff" stroke="#000" stroke-width="3.2"/>
<text x="174.4" y="188.4" class="nl" textLength="34.0" lengthAdjust="spacingAndGlyphs">X17</text>
<ellipse cx="267.6" cy="183.3" rx="19.7" ry="17.3" fill="#fcbf00" stroke="#000" stroke-width="3.2"/>
<text x="256.1" y="189.0" class="nl" textLength="23.0" lengthAdjust="spacingAndGlyphs">X5</text>
<ellipse cx="341.0" cy="191.0" rx="19.7" ry="17.3" fill="#ffffff" stroke="#000" stroke-width="3.2"/>
<text x="329.5" y="196.7" class="nl" textLength="23.0" lengthAdjust="spacingAndGlyphs">X2</text>
<ellipse cx="408.7" cy="192.0" rx="19.7" ry="17.3" fill="#afafaf" stroke="#000" stroke-width="3.2"/>
<text x="391.7" y="197.7" class="nl" textLength="34.0" lengthAdjust="spacingAndGlyphs">X16</text>
<ellipse cx="482.2" cy="193.0" rx="19.7" ry="17.3" fill="#ffffff" stroke="#000" stroke-width="3.2"/>
<text x="465.2" y="198.7" class="nl" textLength="34.0" lengthAdjust="spacingAndGlyphs">X13</text>
<ellipse cx="239.3" cy="245.6" rx="19.7" ry="17.3" fill="#ffffff" stroke="#000" stroke-width="3.2"/>
<text x="222.3" y="251.3" class="nl" textLength="34.0" lengthAdjust="spacingAndGlyphs">X14</text>
<ellipse cx="316.5" cy="248.2" rx="19.7" ry="17.3" fill="#ffffff" stroke="#000" stroke-width="3.2"/>
<text x="305.0" y="253.9" class="nl" textLength="23.0" lengthAdjust="spacingAndGlyphs">X4</text>
<ellipse cx="398.5" cy="270.8" rx="19.7" ry="17.3" fill="#afafaf" stroke="#000" stroke-width="3.2"/>
<text x="381.5" y="276.5" class="nl" textLength="34.0" lengthAdjust="spacingAndGlyphs">X11</text>
<ellipse cx="215.5" cy="307.4" rx="19.7" ry="17.3" fill="#ffffff" stroke="#000" stroke-width="3.2"/>
<text x="204.0" y="313.1" class="nl" textLength="23.0" lengthAdjust="spacingAndGlyphs">X6</text>
<ellipse cx="335.7" cy="307.5" rx="19.7" ry="17.3" fill="#da589b" stroke="#000" stroke-width="3.2"/>
<text x="318.7" y="313.2" class="nl" textLength="34.0" lengthAdjust="spacingAndGlyphs">X12</text>
</g>
<text x="140.5" y="79.2" class="lbl" font-size="40">A</text>
<text x="566" y="77.2" class="lbl" font-size="40">B</text>
<text x="66.5" y="331.2" class="lbl" font-size="40">C</text>
<text x="428.2" y="328.4" class="lbl" font-size="37.5">D</text>
<!-- B -->
<text x="602" y="89" class="serif" font-size="22" fill="#1a1a1a" stroke="#1a1a1a" stroke-width="0.65" textLength="163.6" lengthAdjust="spacingAndGlyphs">Training samples</text>
<text x="622.7" y="114.3" class="serif" font-size="22" fill="#1a1a1a" stroke="#1a1a1a" stroke-width="0.65" textLength="122" lengthAdjust="spacingAndGlyphs">(x1,000,000)</text>
<g class="code" font-size="19.5">
<text x="632.3" y="137">###</text>
<text x="632.3" y="161.8">target: X16</text>
<text x="632.3" y="186.4">X12=0</text>
<text x="632.3" y="211">X4=1</text>
<text x="632.3" y="235.6">X11=1</text>
<text x="632.3" y="260.2">X16=0</text>
</g>
<line x1="537" y1="191.8" x2="600" y2="191.8" stroke="#000" stroke-width="3.8"/>
<path d="M615.3,191.8 L596.5,181.6 L596.5,202 Z" fill="#000"/>
<!-- C -->
<text x="114.2" y="355.7" class="mar" font-size="19" textLength="136" lengthAdjust="spacingAndGlyphs">direct prediction</text>
<text x="121.6" y="436.7" class="mar" font-size="19" textLength="125.4" lengthAdjust="spacingAndGlyphs">free generation</text>
<text transform="translate(247.2,546.5) rotate(-90)" x="0" y="0" class="mar" style="stroke-width:0.35px" font-size="13.5" textLength="96" lengthAdjust="spacingAndGlyphs">model-generated</text>
<g class="code" font-size="14">
<text x="255.8" y="340.7">###</text>
<text x="255.8" y="357.9">target: X5</text>
<text x="255.8" y="375">X12=0</text>
<text x="255.8" y="391.5">X5=_</text>
<text x="254.4" y="425.2">###</text>
<text x="254.4" y="443.1">target: X5</text>
<text x="254.4" y="460">X12=0</text>
<text x="254.4" y="477.2">X11=1</text>
<text x="254.4" y="494.5">X16=0</text>
<text x="254.4" y="511.8">X3=0</text>
<text x="254.4" y="529">X15=1</text>
<text x="254.4" y="546">X10=1</text>
<text x="254.4" y="563.1">X5=_</text>
</g>
<!-- axes -->
<text x="421.4" y="323.6" class="tick" text-anchor="end">0.10</text>
<text x="421.4" y="425.8" class="tick" text-anchor="end">0.05</text>
<text x="421.4" y="528.4" class="tick" text-anchor="end">0.00</text>
<g stroke="#4d4d4d" stroke-width="1">
<line x1="424" y1="320" x2="427.5" y2="320"/>
<line x1="424" y1="422" x2="427.5" y2="422"/>
<line x1="424" y1="524.8" x2="427.5" y2="524.8"/>
<line x1="445" y1="537.5" x2="445" y2="541"/>
<line x1="592.7" y1="537.5" x2="592.7" y2="541"/>
<line x1="740.4" y1="537.5" x2="740.4" y2="541"/>
<line x1="888.1" y1="537.5" x2="888.1" y2="541"/>
</g>
<text x="445" y="550.7" class="tick" text-anchor="middle">0.0e+00</text>
<text x="592.7" y="550.7" class="tick" text-anchor="middle">2.5e+08</text>
<text x="740.4" y="550.7" class="tick" text-anchor="middle">5.0e+08</text>
<text x="888.1" y="550.7" class="tick" text-anchor="middle">7.5e+08</text>
<text x="660.8" y="568" class="serif" font-size="18" fill="#111">Number of tokens</text>
<text transform="translate(395.8,487) rotate(-90)" class="serif" font-size="18.3" fill="#111">Mean squared error</text>
<!-- legend -->
<text x="857.8" y="274.1" class="leg" font-size="17">Estimator</text>
<line x1="859" y1="294.1" x2="874.2" y2="294.1" stroke="#000" stroke-width="2.3"/>
<line x1="859" y1="312.8" x2="864" y2="312.8" stroke="#000" stroke-width="2.3"/>
<line x1="868.2" y1="312.8" x2="873.2" y2="312.8" stroke="#000" stroke-width="2.3"/>
<text x="884.7" y="298.8" class="leg" font-size="15.2">direct prediction</text>
<text x="884.7" y="318" class="leg" font-size="15.2">free generation</text>
<text x="857.8" y="358.6" class="leg" font-size="17.3">Train condition</text>
<circle cx="866.6" cy="378.8" r="5.5" fill="#3a8fd1"/>
<circle cx="866.6" cy="398.8" r="5.5" fill="#c9521e"/>
<text x="884.7" y="383.4" class="leg" font-size="15">fully observed</text>
<text x="884.7" y="402.6" class="leg" font-size="15">local (geom)</text>
<g id="wm" fill="none" stroke-linecap="square" stroke-linejoin="miter">
<path d="M708.9,547.0 L715.6,547.0 M712.7,541.2 L712.7,559.4 L710.8,558.5 M708.9,554.6 L715.6,550.8 M717.5,542.2 L729.0,542.2 L729.0,547.0 L717.5,547.0 M717.5,542.2 L717.5,552.7 L715.6,560.4 M723.2,547.9 L723.2,560.4 M719.4,549.8 L719.4,553.7 L727.1,553.7 L727.1,549.8 M718.4,555.6 L718.4,560.4 L728.0,560.4 L728.0,555.6 M743.9,540.3 L733.4,548.9 M743.9,540.3 L754.4,548.9 M739.1,547.9 L748.7,547.9 M737.2,551.8 L750.6,551.8 M743.9,547.9 L743.9,559.4 M739.1,553.7 L741.0,557.5 M748.7,553.7 L746.8,557.5 M734.3,560.4 L753.5,560.4 M759.4,547.0 L766.1,547.0 M763.2,541.2 L763.2,559.4 L761.3,558.5 M759.4,554.6 L766.1,550.8 M768.0,545.0 L780.4,545.0 M773.7,540.3 L773.7,549.8 M768.9,549.8 L778.5,549.8 L768.9,560.4 M769.9,551.8 L780.4,560.4 M783.9,547.0 L804.9,547.0 M794.4,540.3 L794.4,561.3 M793.4,547.9 L784.8,558.5 M795.4,547.9 L804.0,558.5 M798.2,541.2 L800.1,544.1 M811.2,540.3 L813.1,542.2 M808.4,546.0 L815.1,546.0 L809.3,553.7 M812.2,549.8 L812.2,561.3 M813.1,551.8 L816.0,554.6 M817.9,548.9 L828.5,548.9 M822.7,542.2 L822.7,559.4 M817.0,559.4 L829.4,559.4 M854.0,542.2 L834.8,542.2 L834.8,560.4 L854.9,560.4 M839.6,546.0 L851.1,556.5 M850.1,546.0 L839.6,556.5" stroke="#555" stroke-width="2.4"/>
<path d="M708.0,546.2 L714.7,546.2 M711.8,540.4 L711.8,558.6 L709.9,557.7 M708.0,553.8 L714.7,550.0 M716.6,541.4 L728.1,541.4 L728.1,546.2 L716.6,546.2 M716.6,541.4 L716.6,551.9 L714.7,559.6 M722.3,547.1 L722.3,559.6 M718.5,549.0 L718.5,552.9 L726.2,552.9 L726.2,549.0 M717.5,554.8 L717.5,559.6 L727.1,559.6 L727.1,554.8 M743.0,539.5 L732.5,548.1 M743.0,539.5 L753.5,548.1 M738.2,547.1 L747.8,547.1 M736.3,551.0 L749.7,551.0 M743.0,547.1 L743.0,558.6 M738.2,552.9 L740.1,556.7 M747.8,552.9 L745.9,556.7 M733.4,559.6 L752.6,559.6 M758.5,546.2 L765.2,546.2 M762.3,540.4 L762.3,558.6 L760.4,557.7 M758.5,553.8 L765.2,550.0 M767.1,544.2 L779.5,544.2 M772.8,539.5 L772.8,549.0 M768.0,549.0 L777.6,549.0 L768.0,559.6 M769.0,551.0 L779.5,559.6 M783.0,546.2 L804.0,546.2 M793.5,539.5 L793.5,560.5 M792.5,547.1 L783.9,557.7 M794.5,547.1 L803.1,557.7 M797.3,540.4 L799.2,543.3 M810.3,539.5 L812.2,541.4 M807.5,545.2 L814.2,545.2 L808.4,552.9 M811.3,549.0 L811.3,560.5 M812.2,551.0 L815.1,553.8 M817.0,548.1 L827.6,548.1 M821.8,541.4 L821.8,558.6 M816.1,558.6 L828.5,558.6 M853.1,541.4 L833.9,541.4 L833.9,559.6 L854.0,559.6 M838.7,545.2 L850.2,555.8 M849.2,545.2 L838.7,555.8" stroke="#f2f2f2" stroke-width="2.2"/>
</g>
<text x="864.9" y="560.6" font-family="Liberation Sans" font-size="25" fill="#5a5a5a">@</text>
<text x="864" y="559.8" font-family="Liberation Sans" font-size="25" fill="#f4f4f4">@</text>
<text x="894.4" y="561.2" font-family="Liberation Sans" font-size="25" fill="#5a5a5a" textLength="118.5" lengthAdjust="spacingAndGlyphs">HalukiSan</text>
<text x="893.5" y="560.4" font-family="Liberation Sans" font-size="25" fill="#f4f4f4" textLength="118.5" lengthAdjust="spacingAndGlyphs">HalukiSan</text>

</svg>
</body></html>
